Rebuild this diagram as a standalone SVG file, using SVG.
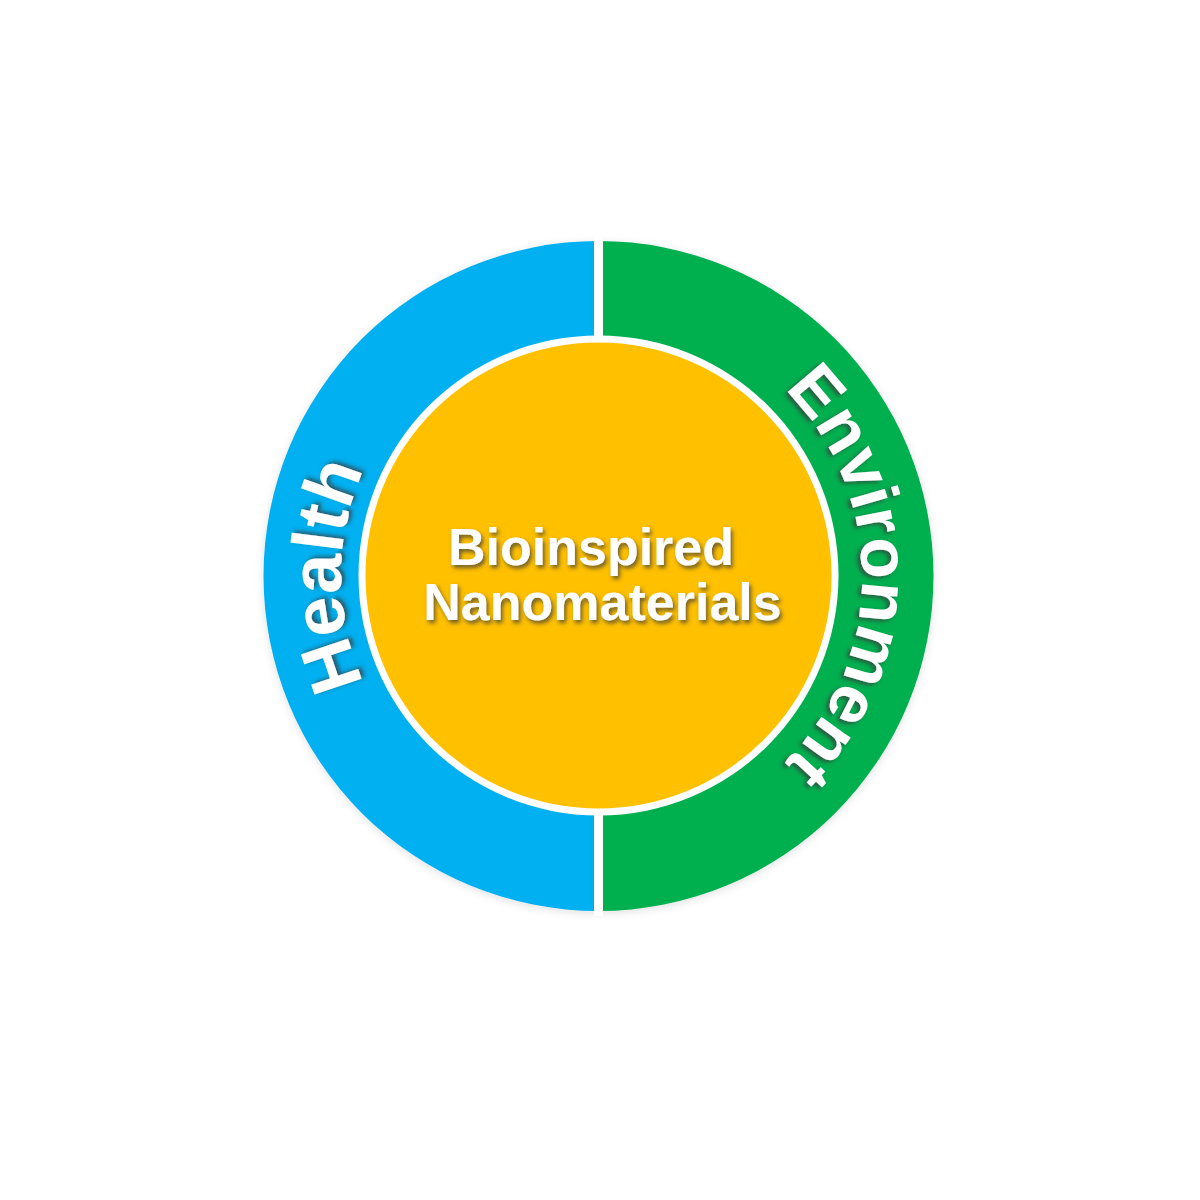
<svg xmlns="http://www.w3.org/2000/svg" width="1200" height="1200" viewBox="0 0 1200 1200">
  <defs>
    <filter id="ringShadow" x="-10%" y="-10%" width="120%" height="120%">
      <feDropShadow dx="0" dy="2" stdDeviation="4" flood-color="#000" flood-opacity="0.12"/>
    </filter>
    <filter id="txtShadow" x="-20%" y="-40%" width="140%" height="180%">
      <feDropShadow dx="2" dy="3" stdDeviation="2" flood-color="#3a3a3a" flood-opacity="0.75"/>
    </filter>
    <path id="arcH" d="M 341 576 A 258 258 0 0 1 857 576"/>
    <path id="arcE" d="M 336 576 A 263 263 0 0 1 862 576"/>
  </defs>
  <style>
    .lbl { font-family: "Liberation Sans", Arial, sans-serif; font-weight: bold; fill: #ffffff; }
    .ringH { font-size: 72px; }
    .ringE { font-size: 68px; }
    .core { font-size: 52px; }
  </style>
  <rect width="1200" height="1200" fill="#ffffff"/>

  <g id="health">
    <path d="M 598.5 241 A 335 335 0 0 0 598.5 911 Z" fill="#00B0F0" filter="url(#ringShadow)"/>
  </g>
  <g id="environment">
    <path d="M 598.5 241 A 335 335 0 0 1 598.5 911 Z" fill="#00B050" filter="url(#ringShadow)"/>
  </g>
  <rect x="594" y="236" width="9" height="680" fill="#ffffff"/>

  <g id="core">
    <circle cx="598.5" cy="575.5" r="240" fill="#ffffff"/>
    <circle cx="598.5" cy="575.5" r="233" fill="#FFC000"/>
    <g filter="url(#txtShadow)">
      <text class="lbl core" x="591" y="565" text-anchor="middle">Bioinspired</text>
      <text class="lbl core" x="602.5" y="620" text-anchor="middle">Nanomaterials</text>
    </g>
  </g>

  <g id="health-label" transform="rotate(-90 599 576)">
    <g filter="url(#txtShadow)">
      <text class="lbl ringH"><textPath href="#arcH" startOffset="50%" text-anchor="middle">Health</textPath></text>
    </g>
  </g>
  <g id="environment-label" transform="rotate(90 599 576)">
    <g filter="url(#txtShadow)">
      <text class="lbl ringE"><textPath href="#arcE" startOffset="50%" text-anchor="middle">Environment</textPath></text>
    </g>
  </g>

  <g id="connectors"/>
</svg>
